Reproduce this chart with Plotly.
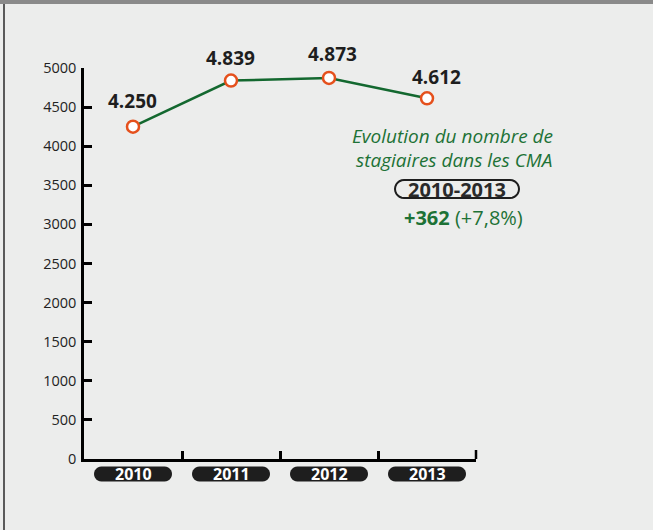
import math
import plotly.graph_objects as go

years = ["2010", "2011", "2012", "2013"]
stagiaires = [4250, 4839, 4873, 4612]
value_labels = ["4.250", "4.839", "4.873", "4.612"]
y_ticks = [0, 500, 1000, 1500, 2000, 2500, 3000, 3500, 4000, 4500, 5000]
title_lines = ["Evolution du nombre de", "stagiaires dans les CMA"]
period_label = "2010-2013"
change_abs = "+362"
change_pct = "(+7,8%)"

# label offsets (styling only, in pixels)
label_dx = [-1, -1, 3, 9]
label_dy = [26, 23, 24, 21]

W, H = 653, 530
L, R, T, B = 84, 476, 68, 459
GREEN = "#1d7236"
LINE_GREEN = "#13682f"
ORANGE = "#e5501c"
DARK = "#1e1e1e"
BG = "#ecedec"
FONT = "Open Sans"


def px(xp):
    return (xp - L) / (R - L)


def py(yp):
    return (B - yp) / (B - T)


def pill_path(cx, cy, w, h, n=12):
    """Rounded-pill polygon in pixel offsets."""
    r = h / 2.0
    pts = []
    for i in range(n + 1):
        a = -math.pi / 2 + math.pi * i / n
        pts.append((cx + w / 2 - r + r * math.cos(a), cy + r * math.sin(a)))
    for i in range(n + 1):
        a = math.pi / 2 + math.pi * i / n
        pts.append((cx - w / 2 + r + r * math.cos(a), cy + r * math.sin(a)))
    return "M " + " L ".join(f"{x:.2f},{y:.2f}" for x, y in pts) + " Z"


fig = go.Figure()
fig.add_trace(go.Scatter(
    x=years, y=stagiaires, mode="lines+markers",
    line=dict(color=LINE_GREEN, width=2.5),
    marker=dict(size=12, color="white", line=dict(color=ORANGE, width=2.5)),
    hoverinfo="skip", showlegend=False, cliponaxis=False,
))

shapes = []
annotations = []

# value labels
for i, (v, lab) in enumerate(zip(stagiaires, value_labels)):
    annotations.append(dict(
        x=i, y=v, xref="x", yref="y", text=f"<b>{lab}</b>", showarrow=False,
        xanchor="center", yanchor="middle",
        xshift=label_dx[i], yshift=label_dy[i],
        font=dict(family=FONT, size=19, color=DARK),
    ))

# year pills under axis
for i, yr in enumerate(years):
    shapes.append(dict(
        type="path", xref="x", yref="paper", xsizemode="pixel", ysizemode="pixel",
        xanchor=i, yanchor=0, path=pill_path(0, -15, 78, 15),
        fillcolor="#1e1e1e", line=dict(width=0), layer="above",
    ))
    annotations.append(dict(
        x=i, y=0, xref="x", yref="paper", text=f"<b>{yr}</b>", showarrow=False,
        xanchor="center", yanchor="middle", yshift=-15,
        font=dict(family=FONT, size=16, color="white"),
    ))

# closing tick at right end of x axis
shapes.append(dict(type="line", xref="paper", yref="paper", ysizemode="pixel",
                   yanchor=0, x0=1, x1=1, y0=0, y1=9,
                   line=dict(color="black", width=2.5)))

# top bar & left border
shapes.append(dict(type="rect", xref="paper", yref="paper",
                   x0=px(0), x1=px(W), y0=py(4), y1=py(0),
                   fillcolor="#8a8a8a", line=dict(width=0)))
shapes.append(dict(type="line", xref="paper", yref="paper",
                   x0=px(4), x1=px(4), y0=py(4), y1=py(H),
                   line=dict(color="#5a5a5a", width=2)))


def note(xp, yp, text, size, color):
    annotations.append(dict(x=px(xp), y=py(yp), xref="paper", yref="paper",
                            xanchor="center", yanchor="middle",
                            text=text, showarrow=False,
                            font=dict(family=FONT, size=size, color=color)))


note(452, 136, f"<i>{title_lines[0]}</i>", 19, GREEN)
note(454, 160, f"<i>{title_lines[1]}</i>", 19, GREEN)
shapes.append(dict(type="path", xref="paper", yref="paper",
                   xsizemode="pixel", ysizemode="pixel",
                   xanchor=px(457), yanchor=py(189), path=pill_path(0, 0, 124, 18),
                   fillcolor="rgba(0,0,0,0)", line=dict(color=DARK, width=2)))
note(457, 189, f"<b>{period_label}</b>", 20, "#2a2a2a")
note(463, 217, f"<b>{change_abs}</b> {change_pct}", 20, GREEN)

fig.update_layout(
    width=W, height=H,
    margin=dict(l=L, r=W - R, t=T, b=H - B, pad=0),
    paper_bgcolor=BG, plot_bgcolor=BG,
    shapes=shapes, annotations=annotations,
    xaxis=dict(
        type="category", categoryorder="array", categoryarray=years,
        range=[-0.5, 3.5], showgrid=False, zeroline=False,
        showline=True, linecolor="black", linewidth=2.5,
        ticks="inside", tickson="boundaries", ticklen=8, tickwidth=2.5,
        tickcolor="black", showticklabels=False, fixedrange=True,
    ),
    yaxis=dict(
        range=[0, 5000], tickvals=y_ticks, showgrid=False, zeroline=False,
        showline=True, linecolor="black", linewidth=2.5,
        ticks="inside", ticklen=8, tickwidth=2.5, tickcolor="black",
        tickfont=dict(family=FONT, size=14.5, color="#222"),
        ticklabelstandoff=2, fixedrange=True,
    ),
)

fig.write_html("out.html", config={"displayModeBar": False},
               post_script="document.body.style.margin='0px';")
